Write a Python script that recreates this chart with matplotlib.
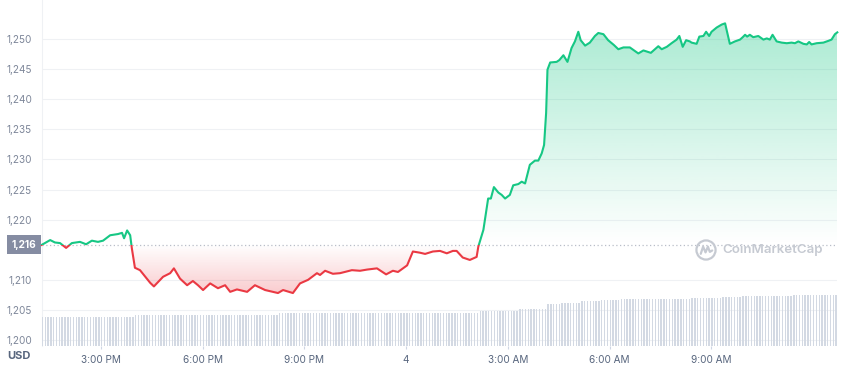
import numpy as np
import matplotlib.pyplot as plt
from matplotlib.patches import Rectangle, PathPatch, Circle
from matplotlib.path import Path
from matplotlib.colors import to_rgb
import matplotlib.transforms as mtransforms

plt.rcParams['font.family'] = ['Inter', 'DejaVu Sans']

# time in hours since midnight of day 3 (24 = day 4 midnight)
hours = [13.25, 13.50, 13.64, 13.79, 13.97, 14.14, 14.38, 14.56, 14.73, 14.91,
         15.06, 15.27, 15.50, 15.62, 15.68, 15.77, 15.86, 15.91, 16.00, 16.15,
         16.45, 16.56, 16.83, 17.04, 17.15, 17.33, 17.54, 17.71, 17.86, 18.01,
         18.22, 18.45, 18.66, 18.81, 19.01, 19.31, 19.54, 19.84, 20.22, 20.37,
         20.66, 20.87, 21.11, 21.37, 21.46, 21.61, 21.84, 22.05, 22.40, 22.64,
         22.85, 23.14, 23.41, 23.61, 23.76, 24.03, 24.20, 24.41, 24.56, 24.79,
         25.00, 25.20, 25.38, 25.49, 25.67, 25.88, 26.08, 26.13, 26.28, 26.42,
         26.50, 26.59, 26.72, 26.82, 26.92, 27.06, 27.16, 27.31, 27.41, 27.51,
         27.65, 27.80, 27.90, 28.00, 28.07, 28.13, 28.17, 28.25, 28.44, 28.52,
         28.64, 28.76, 28.88, 28.98, 29.08, 29.15, 29.28, 29.42, 29.57, 29.67,
         29.82, 29.96, 30.13, 30.26, 30.41, 30.60, 30.70, 30.85, 31.00, 31.11,
         31.22, 31.34, 31.44, 31.54, 31.69, 31.83, 31.98, 32.06, 32.16, 32.26,
         32.37, 32.42, 32.57, 32.65, 32.77, 32.85, 32.94, 33.01, 33.16, 33.31,
         33.41, 33.55, 33.70, 33.85, 33.93, 34.00, 34.06, 34.14, 34.24, 34.39,
         34.54, 34.64, 34.73, 34.81, 34.93, 35.08, 35.23, 35.37, 35.47, 35.57,
         35.72, 35.82, 35.89, 35.96, 36.11, 36.31, 36.46, 36.55, 36.65, 36.72]

price = [1215.8, 1216.6, 1216.2, 1216.1, 1215.3, 1216.1, 1216.3, 1215.9, 1216.5, 1216.3,
         1216.5, 1217.4, 1217.6, 1217.8, 1216.9, 1218.2, 1217.4, 1215.2, 1212.0, 1211.6,
         1209.5, 1208.9, 1210.5, 1211.1, 1211.9, 1210.2, 1209.1, 1209.8, 1209.1, 1208.3,
         1209.4, 1208.6, 1209.1, 1208.0, 1208.4, 1208.0, 1209.1, 1208.3, 1207.8, 1208.3,
         1207.8, 1209.4, 1210.0, 1211.1, 1210.8, 1211.5, 1211.0, 1211.1, 1211.6, 1211.5,
         1211.7, 1211.9, 1210.9, 1211.5, 1211.3, 1212.4, 1214.7, 1214.5, 1214.3, 1214.7,
         1214.8, 1214.4, 1214.8, 1214.8, 1213.7, 1213.3, 1213.8, 1215.5, 1218.3, 1223.5,
         1223.5, 1225.4, 1224.5, 1224.1, 1223.5, 1224.1, 1225.7, 1225.9, 1226.3, 1226.0,
         1229.1, 1229.8, 1229.8, 1231.0, 1232.4, 1237.7, 1244.9, 1246.1, 1246.2, 1246.5,
         1247.3, 1246.2, 1248.5, 1249.6, 1251.2, 1249.8, 1248.9, 1249.4, 1250.5, 1251.0,
         1250.8, 1249.8, 1249.0, 1248.3, 1248.6, 1248.6, 1248.2, 1247.6, 1248.1, 1247.9,
         1247.7, 1248.3, 1248.8, 1248.3, 1248.7, 1249.3, 1249.9, 1250.5, 1248.7, 1249.8,
         1249.6, 1249.4, 1249.2, 1250.4, 1250.5, 1251.2, 1250.5, 1251.2, 1251.9, 1252.4,
         1252.6, 1249.2, 1249.6, 1249.9, 1250.3, 1250.7, 1250.4, 1250.7, 1250.3, 1250.5,
         1249.9, 1250.1, 1249.9, 1250.7, 1249.6, 1249.4, 1249.3, 1249.4, 1249.3, 1249.6,
         1249.2, 1249.1, 1249.5, 1249.1, 1249.3, 1249.4, 1249.7, 1249.9, 1250.8, 1251.1]

ref_price = 1215.8

# 24h volume (billion USD), one bar every 5 minutes from 13:15
volume = [
    11.7, 11.7, 11.7, 11.7, 11.7, 11.7, 11.7, 11.7, 11.7,
    11.7, 11.7, 11.7, 11.7, 11.7, 11.7, 11.7, 11.7, 11.7, 11.7, 11.7, 11.7,
    11.7, 11.7, 11.7, 11.7, 11.7, 11.7, 11.7, 11.8, 11.8, 11.8, 11.8, 11.8,
    12.3, 12.3, 12.3, 12.3, 12.3, 12.3, 12.3, 12.3, 12.3, 12.3, 12.3, 12.3,
    12.3, 12.3, 12.3, 12.3, 12.3, 12.3, 12.3, 12.3, 12.3, 12.3, 12.3, 12.6,
    12.6, 12.6, 12.6, 12.6, 12.6, 12.6, 12.6, 12.6, 12.6, 12.6, 12.6, 12.6,
    12.6, 12.6, 12.6, 12.6, 12.6, 12.6, 12.6, 12.6, 12.6, 12.6, 12.6, 12.6,
    12.6, 12.6, 12.6, 13.3, 13.3, 13.3, 13.3, 13.3, 13.3, 13.3, 13.3, 13.3,
    13.3, 13.3, 13.3, 13.3, 13.3, 13.3, 13.3, 13.3, 13.3, 13.3, 13.3, 13.3,
    13.3, 13.3, 13.3, 13.3, 13.3, 13.3, 13.3, 13.3, 13.3, 13.3, 13.3, 13.3,
    13.3, 13.3, 13.3, 13.3, 13.3, 13.3, 13.3, 13.3, 13.3, 13.3, 13.3, 13.3,
    13.3, 13.3, 13.3, 13.3, 13.3, 13.3, 13.3, 13.3, 13.3, 13.3, 13.3, 13.3,
    13.3, 13.3, 13.3, 13.3, 13.3, 13.3, 13.3, 13.3, 13.3, 13.3, 13.3, 13.3,
    13.3, 13.3, 14.0, 14.0, 14.0, 14.0, 14.0, 14.0, 14.0, 14.0, 14.0, 14.0,
    14.0, 14.0, 14.0, 14.0, 14.9, 14.9, 14.9, 14.9, 14.9, 14.9, 14.9, 14.9,
    14.9, 14.9, 16.7, 16.7, 16.7, 16.7, 16.7, 17.3, 17.3, 17.3, 17.3, 17.3,
    17.3, 17.3, 18.0, 18.0, 18.0, 18.0, 18.0, 18.0, 18.0, 18.4, 18.4, 18.4,
    18.4, 18.4, 18.4, 18.4, 18.8, 18.8, 18.8, 18.8, 18.8, 18.8, 18.8, 18.8,
    18.8, 18.8, 18.8, 18.8, 18.8, 18.8, 18.8, 18.8, 18.8, 18.8, 18.8, 18.8,
    18.8, 18.8, 18.8, 18.8, 18.8, 19.1, 19.1, 19.1, 19.1, 19.1, 19.1, 19.1,
    19.1, 19.1, 19.1, 19.1, 19.7, 19.7, 19.7, 19.7, 19.7, 19.7, 19.7, 20.2,
    20.2, 20.2, 20.2, 20.2, 20.2, 20.2, 20.2, 20.2, 20.2, 20.2, 20.2, 20.2,
    20.2, 20.2, 20.2, 20.2, 20.2, 20.3, 20.3, 20.3, 20.3, 20.3, 20.3, 20.3,
    20.3, 20.3, 20.3, 20.3, 20.3, 20.3, 20.3, 20.3, 20.3, 20.3,
]
vol_hours = 13.25 + np.arange(len(volume)) / 12

yticks = [1200, 1205, 1210, 1220, 1225, 1230, 1235, 1240, 1245, 1250]
xticks = [15, 18, 21, 24, 27, 30, 33]
xtick_labels = ['3:00 PM', '6:00 PM', '9:00 PM', '4', '3:00 AM', '6:00 AM', '9:00 AM']

green = '#16c784'
red = '#ea3943'
grey_txt = '#7d8699'
dark_txt = '#58667e'

W, H = 850, 366
fig = plt.figure(figsize=(W / 100, H / 100), dpi=100)
left_px, right_px, bottom_px = 41.7, 837.3, 346
ax = fig.add_axes([left_px / W, (H - bottom_px) / H, (right_px - left_px) / W, bottom_px / H])

t = np.array(hours)
p = np.array(price)
x0, x1 = t[0], t[-1]
ylo = 1250 - (bottom_px - 39) / 6.02
yhi = 1250 + 39 / 6.02

# volume bars on a twin axis
axv = ax.twinx()
axv.bar(vol_hours, volume, width=0.5 / 12, color='#d3d9e3', linewidth=0, align='edge')
axv.set_ylim(0, bottom_px / 2.5)
axv.set_yticks([])
for s in axv.spines.values():
    s.set_visible(False)


def gradient_fill(ax, t, p, base, color, alpha_max, above):
    if above:
        where = p >= base
    else:
        where = p <= base
    poly = ax.fill_between(t, p, base, where=where, interpolate=True,
                           facecolor='none', edgecolor='none')
    path = Path.make_compound_path(*poly.get_paths())
    clip = PathPatch(path, transform=ax.transData, facecolor='none', edgecolor='none')
    ax.add_patch(clip)
    rgb = to_rgb(color)
    img = np.zeros((256, 1, 4))
    img[:, :, :3] = rgb
    ramp = np.linspace(0, 1, 256)
    if above:
        img[:, 0, 3] = ramp * alpha_max
        ext = [t[0], t[-1], base, p.max()]
    else:
        img[:, 0, 3] = ramp[::-1] * alpha_max
        ext = [t[0], t[-1], p.min(), base]
    im = ax.imshow(img, extent=ext, aspect='auto', origin='lower', zorder=1,
                   interpolation='bilinear')
    im.set_clip_path(clip)


gradient_fill(ax, t, p, ref_price, green, 0.36, True)
gradient_fill(ax, t, p, ref_price, red, 0.26, False)

ax.axhline(ref_price, color='#b9bec8', lw=0.9, ls=(0, (1, 2)), zorder=2)

up_line, = ax.plot(t, p, color=green, lw=1.5, zorder=3, solid_joinstyle='round')
up_line.set_clip_path(Rectangle((x0 - 1, ref_price), x1 - x0 + 2, 100,
                                transform=ax.transData))
dn_line, = ax.plot(t, p, color=red, lw=1.5, zorder=3, solid_joinstyle='round')
dn_line.set_clip_path(Rectangle((x0 - 1, ref_price - 100), x1 - x0 + 2, 100,
                                transform=ax.transData))

ax.set_xlim(x0, x1)
ax.set_ylim(ylo, yhi)
axv.set_xlim(x0, x1)

ax.set_yticks(yticks)
ax.set_yticklabels([f"{v:,}" for v in yticks])
ax.set_xticks(xticks)
ax.set_xticklabels(xtick_labels)
ax.tick_params(axis='y', length=0, pad=7, labelsize=7.2, labelcolor=grey_txt)
ax.tick_params(axis='x', length=2.5, width=0.8, color='#cfd6e4', pad=4,
               labelsize=7.2, labelcolor=dark_txt)
ax.grid(axis='y', color='#eff1f4', lw=0.8)
ax.set_axisbelow(True)
for name, s in ax.spines.items():
    s.set_visible(name == 'left')
ax.spines['left'].set_color('#eff1f4')

# current price tag
trans = mtransforms.blended_transform_factory(ax.transAxes, ax.transData)
ax.text(-0.0064, ref_price, f"{round(ref_price):,}", transform=trans, ha='right', va='center',
        fontsize=7.3, color='white', fontweight='bold', clip_on=False, zorder=5,
        bbox=dict(boxstyle='square,pad=0.45', fc='#858ca2', ec='none'))

fig.text(19 / W, 1 - 356 / H, 'USD', ha='center', va='center', fontsize=8,
         fontweight='bold', color=dark_txt)

# watermark
lax = fig.add_axes([(706 - 11) / W, 1 - (250 + 11) / H, 22 / W, 22 / H])
lax.set_xlim(-1.15, 1.15)
lax.set_ylim(-1.15, 1.15)
lax.axis('off')
lax.add_patch(Circle((0, 0), 1, fill=False, lw=1.6, color='#c6cad2'))
lax.plot([-0.55, -0.3, -0.05, 0.2, 0.4, 0.65], [-0.4, 0.35, -0.25, 0.35, -0.2, -0.05],
         color='#c6cad2', lw=1.6, solid_joinstyle='round', solid_capstyle='round')
fig.text(722 / W, 1 - 250 / H, 'CoinMarketCap', ha='left', va='center', fontsize=9.6,
         fontweight='semibold', color='#c6cad2')

fig.savefig('out.png', dpi=100)
